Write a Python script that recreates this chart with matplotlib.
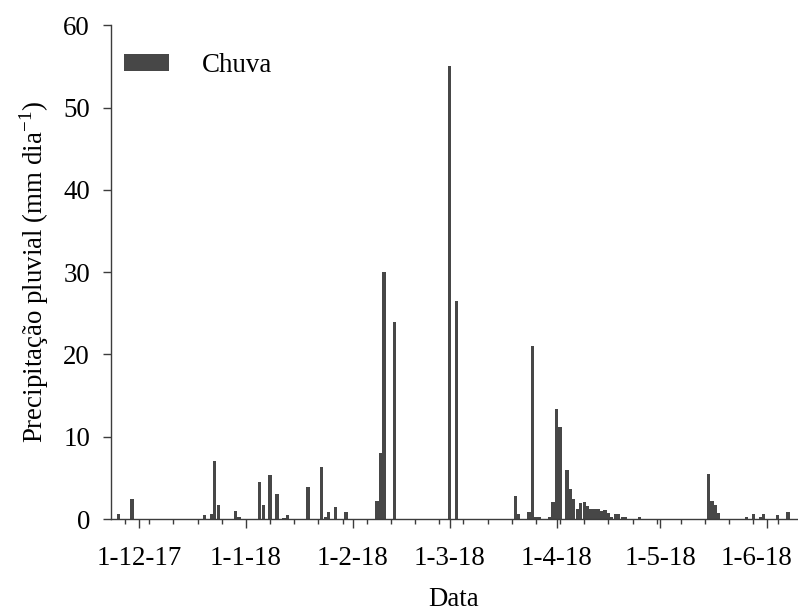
import datetime as dt
import matplotlib
matplotlib.use("Agg")
import matplotlib.pyplot as plt
import matplotlib.dates as mdates
from matplotlib.ticker import FuncFormatter
from matplotlib.transforms import ScaledTranslation

# daily rainfall (mm/day)
rain_dates = [
    "2017-11-25", "2017-11-29", "2017-12-20", "2017-12-22", "2017-12-23", "2017-12-24",
    "2017-12-29", "2017-12-30", "2018-01-05", "2018-01-06", "2018-01-08", "2018-01-10",
    "2018-01-12", "2018-01-13", "2018-01-19", "2018-01-23", "2018-01-24", "2018-01-25",
    "2018-01-27", "2018-01-30", "2018-02-08", "2018-02-09", "2018-02-10", "2018-02-13",
    "2018-03-01", "2018-03-03", "2018-03-20", "2018-03-21", "2018-03-24", "2018-03-25",
    "2018-03-26", "2018-03-27", "2018-03-30", "2018-03-31", "2018-04-01", "2018-04-02",
    "2018-04-04", "2018-04-05", "2018-04-06", "2018-04-07", "2018-04-08", "2018-04-09",
    "2018-04-10", "2018-04-11", "2018-04-12", "2018-04-13", "2018-04-14", "2018-04-15",
    "2018-04-16", "2018-04-17", "2018-04-18", "2018-04-19", "2018-04-20", "2018-04-21",
    "2018-04-25", "2018-05-15", "2018-05-16", "2018-05-17", "2018-05-18", "2018-05-26",
    "2018-05-28", "2018-05-30", "2018-05-31", "2018-06-04", "2018-06-07",
]
rain_mm = [
    0.6, 2.4, 0.5, 0.65, 7.0, 1.7,
    1.0, 0.2, 4.5, 1.75, 5.3, 3.0,
    0.15, 0.5, 3.9, 6.3, 0.2, 0.85,
    1.5, 0.85, 2.2, 8.0, 30.0, 24.0,
    55.0, 26.5, 2.8, 0.6, 0.9, 21.0,
    0.2, 0.2, 0.2, 2.1, 13.4, 11.2,
    6.0, 3.6, 2.4, 1.2, 2.0, 2.1,
    1.6, 1.2, 1.2, 1.2, 1.0, 1.1,
    0.7, 0.3, 0.55, 0.55, 0.2, 0.2,
    0.2, 5.5, 2.2, 1.7, 0.7, 0.2,
    0.65, 0.2, 0.65, 0.5, 0.85,
]
y_ticks = [0, 10, 20, 30, 40, 50, 60]

FONT = "Liberation Serif"
FS = 19.4
BAR = "#474747"
AXC = "#3c3c3c"

plt.rcParams["font.family"] = [FONT, "DejaVu Serif"]
plt.rcParams["mathtext.fontset"] = "custom"
plt.rcParams["mathtext.rm"] = FONT

fig = plt.figure(figsize=(7.98, 6.14), dpi=100)
ax = fig.add_axes([0.139, 0.1547, 0.86, 0.804])

x = [dt.datetime.strptime(d, "%Y-%m-%d") for d in rain_dates]
ax.bar(x, rain_mm, width=0.95, color=BAR, linewidth=0, label="Chuva")

d0 = dt.datetime(2017, 12, 1)
ax.set_xlim(d0 - dt.timedelta(days=8.1), d0 + dt.timedelta(days=190.7))
ax.set_ylim(0, 60)
ax.set_yticks(y_ticks)

ax.xaxis.set_major_locator(mdates.MonthLocator())
ax.xaxis.set_minor_locator(mdates.WeekdayLocator(byweekday=mdates.MO))
ax.xaxis.set_major_formatter(FuncFormatter(
    lambda v, p: (lambda d: f"{d.day}-{d.month}-{d:%y}")(mdates.num2date(v))))

for s in ("top", "right"):
    ax.spines[s].set_visible(False)
for s in ("left", "bottom"):
    ax.spines[s].set_color(AXC)
    ax.spines[s].set_linewidth(1.0)

ax.tick_params(axis="y", which="major", length=6, width=1.0, color=AXC,
               labelsize=FS, pad=9)
ax.tick_params(axis="x", which="major", length=6.2, width=1.0, color=AXC,
               labelsize=FS, pad=13)
ax.tick_params(axis="x", which="minor", length=3.8, width=1.0, color=AXC)

ax.set_xlabel("Data", fontsize=FS, labelpad=12)
ax.set_ylabel("Precipitação pluvial (mm dia$^{-1}$)", fontsize=FS, labelpad=9)

ax.legend(loc="upper left", bbox_to_anchor=(0.019, 0.944), frameon=False,
          fontsize=FS, borderpad=0, borderaxespad=0, handlelength=1.67,
          handleheight=0.6, handletextpad=1.22)

# last month label sits a bit to the left so it stays inside the figure
ticks = ax.xaxis.get_major_ticks()
ticks[-1].label1.set_transform(ticks[-1].label1.get_transform()
                               + ScaledTranslation(-0.11, 0, fig.dpi_scale_trans))

fig.savefig("out.png", dpi=100)
